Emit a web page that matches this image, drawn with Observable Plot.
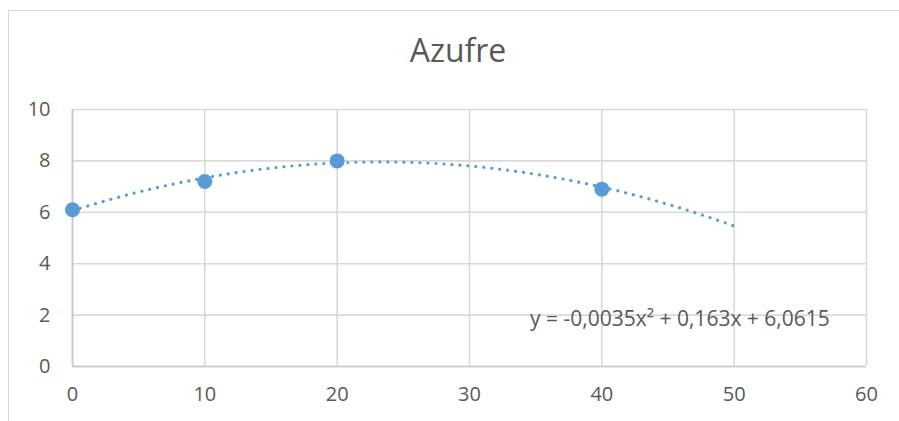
<!DOCTYPE html>
<html>
<head>
<meta charset="utf-8">
<script src="https://cdn.jsdelivr.net/npm/d3@7"></script>
<script src="https://cdn.jsdelivr.net/npm/@observablehq/plot@0.6"></script>
<style>
  html, body { margin: 0; padding: 0; background: #fff; }
  #chart { position: relative; width: 899px; height: 421px; overflow: hidden; font-family: "Open Sans", sans-serif; }
  #frame { position: absolute; left: 8px; top: 10px; width: 1000px; height: 1000px;
           border-top: 1.5px solid #d9d9d9; border-left: 1.5px solid #d9d9d9; }
  #title { position: absolute; left: 0; width: 916px; top: 28px; text-align: center;
           font-size: 32px; color: #595959; }
  #chart svg { position: absolute; left: 0; top: 0; }
</style>
</head>
<body>
<div id="chart">
  <div id="frame"></div>
  <div id="title">Azufre</div>
</div>
<script>
// Sulfur measurements
const xValues = [0, 10, 20, 40];
const yValues = [6.1, 7.2, 8.0, 6.9];

// Quadratic trendline coefficients (a·x² + b·x + c) and its label
const trendCoef = [-0.0035, 0.163, 6.0615];
const trendRange = [0, 50];
const trendLabel = "y = -0,0035x² + 0,163x + 6,0615";
const labelAt = [45.9, 1.85];

const xTicks = [0, 10, 20, 30, 40, 50, 60];
const yTicks = [0, 2, 4, 6, 8, 10];

const points = xValues.map((x, i) => ({x, y: yValues[i]}));
const trend = d3.range(trendRange[0], trendRange[1] + 0.5, 1).map(x => ({
  x, y: trendCoef[0] * x * x + trendCoef[1] * x + trendCoef[2]
}));

const blue = "#5b9bd5";
const grid = "#d9d9d9";
const ink = "#595959";

const plot = Plot.plot({
  width: 899,
  height: 421,
  marginLeft: 72,
  marginRight: 33,
  marginTop: 109,
  marginBottom: 55,
  style: {fontFamily: "Open Sans, sans-serif", fontSize: "20px", color: ink, background: "transparent"},
  x: {domain: [0, 60], label: null},
  y: {domain: [0, 10], label: null},
  marks: [
    Plot.ruleX(xTicks, {stroke: grid, strokeWidth: 1.6, strokeOpacity: 1}),
    Plot.ruleY(yTicks, {stroke: grid, strokeWidth: 1.6, strokeOpacity: 1}),
    Plot.ruleX([0], {stroke: "#c8c8c8", strokeWidth: 1.6}),
    Plot.ruleY([0], {stroke: "#c8c8c8", strokeWidth: 1.6}),
    Plot.line(trend, {x: "x", y: "y", stroke: blue, strokeWidth: 3.2, strokeDasharray: "0.01 8", strokeLinecap: "round", curve: "natural"}),
    Plot.dot(points, {x: "x", y: "y", r: 7.5, fill: blue, stroke: "none"}),
    Plot.text([trendLabel], {x: () => labelAt[0], y: () => labelAt[1], text: d => d, fill: ink, fontSize: 21}),
    Plot.axisX({ticks: xTicks, tickSize: 0, tickPadding: 20, fontSize: 20, fill: ink, tickFormat: d => String(d), label: null}),
    Plot.axisY({ticks: yTicks, tickSize: 0, tickPadding: 22, fontSize: 20, fill: ink, tickFormat: d => String(d), label: null})
  ]
});

document.getElementById("chart").appendChild(plot);
</script>
</body>
</html>
